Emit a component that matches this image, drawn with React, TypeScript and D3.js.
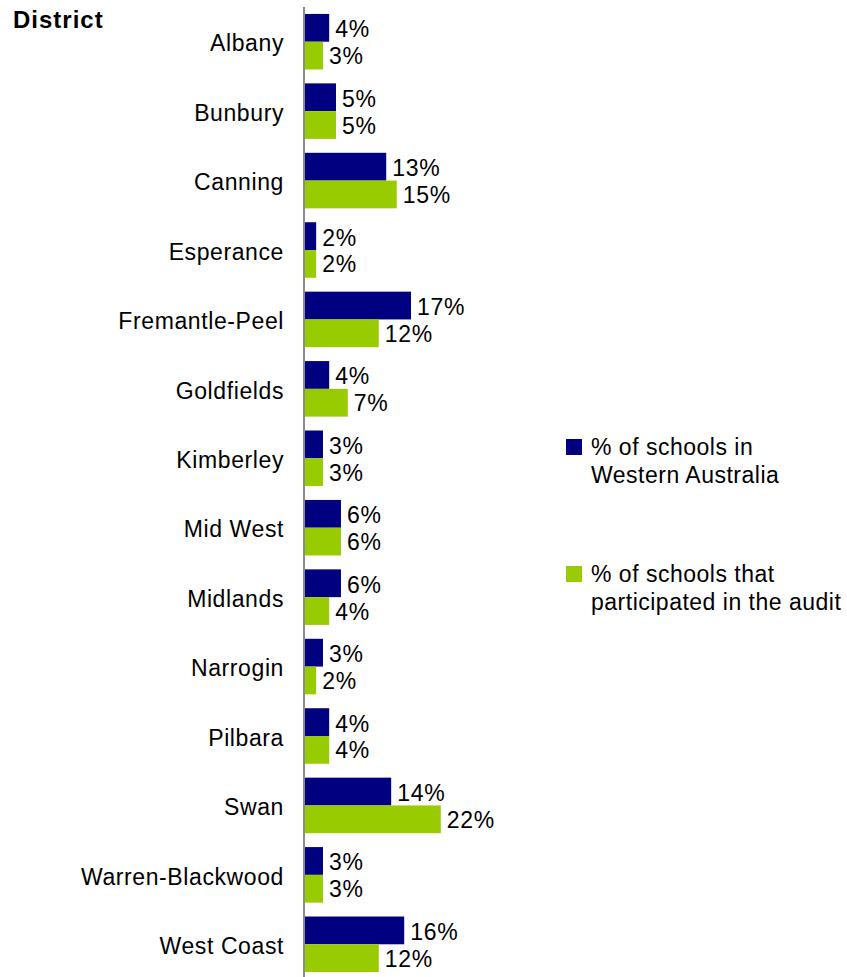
import React from "react";
import * as d3 from "d3";

const districts = [
  "Albany", "Bunbury", "Canning", "Esperance", "Fremantle-Peel", "Goldfields",
  "Kimberley", "Mid West", "Midlands", "Narrogin", "Pilbara", "Swan",
  "Warren-Blackwood", "West Coast",
];
const pctWA = [3.9, 5.0, 13.1, 1.8, 17.1, 3.9, 2.9, 5.8, 5.8, 2.9, 3.9, 13.9, 2.9, 16.0];
const pctAudit = [2.9, 5.0, 14.8, 1.8, 11.9, 6.9, 2.9, 5.8, 3.9, 1.8, 3.9, 21.9, 2.9, 11.9];
const seriesNames = [
  ["% of schools in", "Western Australia"],
  ["% of schools that", "participated in the audit"],
];
const colors = ["#000080", "#99CC00"];

const W = 847;
const H = 977;
const FONT = "'Liberation Sans', Arial, sans-serif";

export default function App() {
  const y = d3.scaleBand<string>().domain(districts).range([7, 979]).paddingInner(0.2).paddingOuter(0.1);
  const x = d3.scaleLinear().domain([0, 25]).range([305, 305 + 155]);
  const bh = y.bandwidth() / 2;
  const fmt = (v: number) => `${Math.round(v)}%`;
  const series = [pctWA, pctAudit];

  return (
    <svg width={W} height={H} style={{ position: "absolute", left: 0, top: 0, background: "#fff" }}
      fontFamily={FONT}>
      <text x={13} y={28} fontSize={24} fontWeight="bold" letterSpacing={1}>District</text>
      {districts.map((d, i) => {
        const y0 = y(d)!;
        return (
          <g key={d}>
            <text x={284} y={y0 + y.bandwidth() / 2 + 9.7} fontSize={23} textAnchor="end" letterSpacing={0.6}>{d}</text>
            {series.map((s, k) => (
              <g key={k}>
                <rect x={x(0)} y={y0 + k * bh} width={x(s[i]) - x(0)} height={bh} fill={colors[k]} />
                <text x={x(s[i]) + 6} y={y0 + k * bh + bh / 2 + (k === 0 ? 9.5 : 8.5)} fontSize={23} letterSpacing={0.7}>
                  {fmt(s[i])}
                </text>
              </g>
            ))}
          </g>
        );
      })}
      <line x1={304} x2={304} y1={7} y2={H} stroke="#666" strokeWidth={1.5} />
      {seriesNames.map((lines, k) => {
        const top = 439 + k * 127;
        return (
          <g key={k}>
            <rect x={566} y={top} width={16} height={16} fill={colors[k]} />
            {lines.map((t, j) => (
              <text key={j} x={591} y={top + 16 + j * 27.5} fontSize={23} letterSpacing={0.5}>{t}</text>
            ))}
          </g>
        );
      })}
    </svg>
  );
}
